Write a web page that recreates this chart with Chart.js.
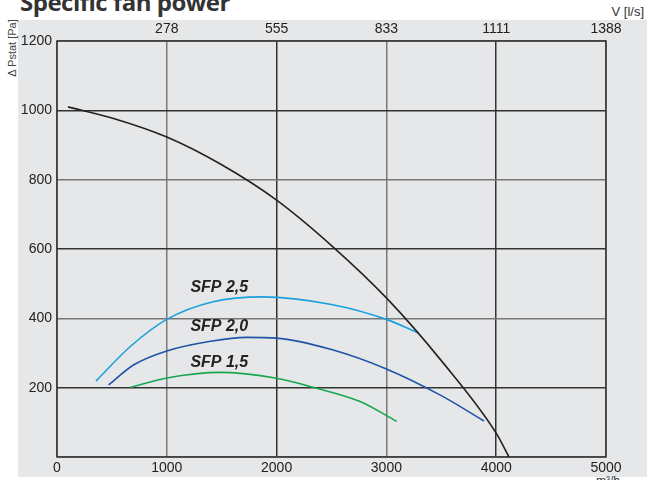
<!DOCTYPE html>
<html>
<head>
<meta charset="utf-8">
<script src="https://cdn.jsdelivr.net/npm/chart.js@4.4.1/dist/chart.umd.min.js"></script>
<style>
  body { margin: 0; background: #fff; width: 647px; height: 480px; overflow: hidden; position: relative; font-family: "Liberation Sans", Arial, sans-serif; }
  #bg { position: absolute; left: 18px; top: 20px; width: 629px; height: 457px; background: #e6e7e9; }
  #title { position: absolute; left: 20px; top: -15px; font: 700 24px "Open Sans", sans-serif; letter-spacing: -0.5px; color: #333; white-space: nowrap; }
  #ylab { position: absolute; left: 12px; top: 48px; font-size: 11px; color: #444; white-space: nowrap; transform: translate(-50%, -50%) rotate(-90deg); }
  #toplab { position: absolute; right: 3px; top: 4px; font-size: 13px; color: #333; }
  #botlab { position: absolute; left: 596px; top: 474px; font-size: 12px; color: #333; }
  #wrap { position: absolute; left: 0; top: 0; width: 647px; height: 480px; }
</style>
</head>
<body>
<div id="bg"></div>
<div id="title">Specific fan power</div>
<div id="ylab">Δ Pstat [Pa]</div>
<div id="toplab">V [l/s]</div>
<div id="botlab">m³/h</div>
<div id="wrap"><canvas id="myChart"></canvas></div>
<script>
// Curves, x in m3/h, y in Pa
const systemX = [100, 500, 1000, 1500, 2000, 2500, 3000, 3500, 4000, 4117];
const systemY = [1010, 978, 923, 843, 741, 610, 459, 278, 69, 0];

const sfp25X = [355, 665, 1000, 1421, 1876, 2500, 3000, 3290];
const sfp25Y = [219, 318, 397, 448, 462, 440, 397, 358];

const sfp20X = [470, 700, 1000, 1400, 1727, 2000, 2500, 3000, 3500, 3889];
const sfp20Y = [208, 266, 306, 334, 345, 343, 310, 254, 177, 104];

const sfp15X = [671, 1000, 1485, 2000, 2333, 2760, 3093];
const sfp15Y = [201, 228, 244, 227, 201, 160, 103];

// Curve labels
const labelText = ['SFP 2,5', 'SFP 2,0', 'SFP 1,5'];
const labelX = [1215, 1215, 1215];
const labelY = [490, 375, 271];

// Tick labels for the l/s axis on top
const topLabels = ['', '278', '555', '833', '1111', '1388'];

function pts(xs, ys) {
    return xs.map((x, i) => ({ x: x, y: ys[i] }));
}

const frame = {
    id: 'frame',
    beforeDatasetsDraw(chart) {
        const a = chart.chartArea, c = chart.ctx;
        c.save();
        c.strokeStyle = '#333';
        c.lineWidth = 1.5;
        c.strokeRect(a.left, a.top, a.right - a.left, a.bottom - a.top);
        c.restore();
    }
};

const curveLabels = {
    id: 'curveLabels',
    afterDatasetsDraw(chart) {
        const c = chart.ctx, sx = chart.scales.x, sy = chart.scales.y;
        c.save();
        c.font = 'italic bold 16px "Liberation Sans", Arial, sans-serif';
        c.fillStyle = '#222';
        c.textBaseline = 'middle';
        labelText.forEach((t, i) => {
            c.fillText(t, sx.getPixelForValue(labelX[i]), sy.getPixelForValue(labelY[i]));
        });
        c.restore();
    }
};

const darkX = [2000, 4000];
const darkY = [1000, 600, 200];
const tickFont = { size: 14, family: '"Liberation Sans", Arial' };

const ctx = document.getElementById('myChart').getContext('2d');
const chart = new Chart(ctx, {
    type: 'scatter',
    data: {
        datasets: [
            { data: pts(systemX, systemY), borderColor: '#222', borderWidth: 1.6 },
            { data: pts(sfp25X, sfp25Y), borderColor: '#1aa0dd', borderWidth: 1.6 },
            { data: pts(sfp20X, sfp20Y), borderColor: '#1f54a6', borderWidth: 1.6 },
            { data: pts(sfp15X, sfp15Y), borderColor: '#17a650', borderWidth: 1.6 }
        ].map(d => Object.assign(d, { showLine: true, pointRadius: 0, cubicInterpolationMode: 'monotone', fill: false }))
    },
    options: {
        responsive: true,
        maintainAspectRatio: false,
        animation: false,
        layout: { padding: { left: 0, right: 41, top: 0, bottom: 0 } },
        plugins: { legend: { display: false }, tooltip: { enabled: false } },
        scales: {
            x: {
                type: 'linear', position: 'bottom', min: 0, max: 5000,
                afterFit: s => { s.height = 23; },
                border: { display: false },
                grid: { drawTicks: false, lineWidth: 1.5, color: c => darkX.includes(c.tick.value) ? '#333' : '#7a7a7a' },
                ticks: { stepSize: 1000, padding: 3, color: '#222', font: tickFont, maxRotation: 0,
                    callback: v => String(v) }
            },
            x2: {
                type: 'linear', position: 'top', min: 0, max: 5000,
                afterFit: s => { s.height = 41; },
                border: { display: false },
                grid: { display: false, drawTicks: false },
                ticks: { stepSize: 1000, padding: 3, color: '#222', font: tickFont, maxRotation: 0,
                    callback: (v, i) => topLabels[i] }
            },
            y: {
                min: 0, max: 1200,
                afterFit: s => { s.width = 57; },
                border: { display: false },
                grid: { drawTicks: false, lineWidth: 1.5, color: c => darkY.includes(c.tick.value) ? '#333' : '#777' },
                ticks: { stepSize: 200, padding: 5, color: '#222', font: tickFont,
                    callback: v => v === 0 ? '' : String(v) }
            }
        }
    },
    plugins: [frame, curveLabels]
});
</script>
</body>
</html>
